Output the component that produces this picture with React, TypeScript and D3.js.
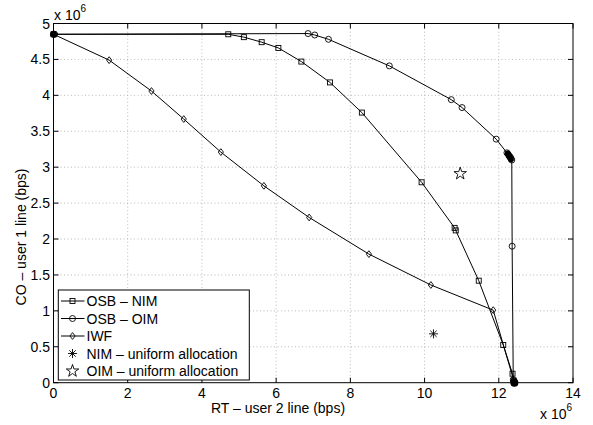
import React from "react";
import * as d3 from "d3";

// values in units of 1e6 bps
const nimX = [0, 4.71, 5.13, 5.61, 6.06, 6.68, 7.45, 8.31, 9.92, 10.81, 10.84, 11.46, 12.12, 12.37, 12.4, 12.42];
const nimY = [4.85, 4.85, 4.81, 4.74, 4.66, 4.47, 4.18, 3.76, 2.79, 2.155, 2.12, 1.42, 0.525, 0.125, 0.03, 0];

const oimX = [0, 0.03, 6.86, 7.04, 7.41, 9.05, 10.72, 11.01, 11.93, 12.22, 12.25, 12.28, 12.31, 12.33, 12.35, 12.36, 12.39, 12.41, 12.42];
const oimY = [4.85, 4.85, 4.86, 4.84, 4.78, 4.41, 3.94, 3.83, 3.39, 3.2, 3.18, 3.16, 3.14, 3.12, 3.1, 1.9, 0.04, 0.02, 0];

const iwfX = [0, 1.5, 2.64, 3.51, 4.51, 5.67, 6.89, 8.5, 10.17, 11.85, 12.42];
const iwfY = [4.85, 4.49, 4.06, 3.67, 3.21, 2.74, 2.3, 1.79, 1.36, 1.01, 0];

const nimUniform = [10.24, 0.68];
const oimUniform = [10.96, 2.91];

const legendLabels = ["OSB \u2013 NIM", "OSB \u2013 OIM", "IWF", "NIM \u2013 uniform allocation", "OIM \u2013 uniform allocation"];

const W = 593;
const H = 425;
const font = "'Liberation Sans', Arial, Helvetica, sans-serif";

const x = d3.scaleLinear().domain([0, 14]).range([53.5, 573]);
const y = d3.scaleLinear().domain([0, 5]).range([382.7, 23.5]);

const zip = (xs: number[], ys: number[]) => xs.map((v, i) => [v, ys[i]] as [number, number]);

const line = d3
  .line<[number, number]>()
  .x((d) => x(d[0]))
  .y((d) => y(d[1]));

type Kind = "square" | "circle" | "diamond" | "asterisk" | "star";

const Marker = ({ kind, cx, cy }: { kind: Kind; cx: number; cy: number }) => {
  const s = { fill: "none", stroke: "#000", strokeWidth: 0.9 };
  if (kind === "square") return <rect x={cx - 2.5} y={cy - 2.5} width={5} height={5} {...s} />;
  if (kind === "circle") return <circle cx={cx} cy={cy} r={3} {...s} />;
  if (kind === "diamond")
    return <path d={`M${cx},${cy - 3.4}L${cx + 2.6},${cy}L${cx},${cy + 3.4}L${cx - 2.6},${cy}Z`} {...s} />;
  if (kind === "asterisk") {
    const r = 4.5;
    const k = r * 0.707;
    return (
      <path
        d={`M${cx - r},${cy}H${cx + r}M${cx},${cy - r}V${cy + r}M${cx - k},${cy - k}L${cx + k},${cy + k}M${cx - k},${cy + k}L${cx + k},${cy - k}`}
        {...s}
      />
    );
  }
  const star = d3.symbol(d3.symbolStar, 48)();
  return <path d={star || ""} transform={`translate(${cx},${cy})`} {...s} />;
};

const series: { pts: [number, number][]; kind: Kind }[] = [
  { pts: zip(nimX, nimY), kind: "square" },
  { pts: zip(oimX, oimY), kind: "circle" },
  { pts: zip(iwfX, iwfY), kind: "diamond" },
];

export default function App() {
  const xTicks = x.ticks(7);
  const yTicks = y.ticks(10);
  const [x0, x1] = x.range();
  const [y0, y1] = y.range();
  const legendKinds: Kind[] = ["square", "circle", "diamond", "asterisk", "star"];

  return (
    <svg width={W} height={H} style={{ display: "block", position: "absolute", left: 0, top: 0, background: "#fff" }}>
      <rect width={W} height={H} fill="#fff" />
      {/* grid */}
      <g stroke="#a8a8a8" strokeWidth={0.8} strokeDasharray="1,2.5">
        {xTicks.slice(1, -1).map((t) => (
          <line key={"gx" + t} x1={x(t)} x2={x(t)} y1={y0} y2={y1} />
        ))}
        {yTicks.slice(1, -1).map((t) => (
          <line key={"gy" + t} x1={x0} x2={x1} y1={y(t)} y2={y(t)} />
        ))}
      </g>
      {/* ticks */}
      <g stroke="#000" strokeWidth={1}>
        {xTicks.map((t) => (
          <g key={"tx" + t}>
            <line x1={x(t)} x2={x(t)} y1={y0} y2={y0 - 5} />
            <line x1={x(t)} x2={x(t)} y1={y1} y2={y1 + 5} />
          </g>
        ))}
        {yTicks.map((t) => (
          <g key={"ty" + t}>
            <line x1={x0} x2={x0 + 5} y1={y(t)} y2={y(t)} />
            <line x1={x1} x2={x1 - 5} y1={y(t)} y2={y(t)} />
          </g>
        ))}
      </g>
      {/* series */}
      {series.map((s, i) => (
        <g key={i}>
          <path d={line(s.pts) || ""} fill="none" stroke="#000" strokeWidth={1} />
          {s.pts.map((p, j) => (
            <Marker key={j} kind={s.kind} cx={x(p[0])} cy={y(p[1])} />
          ))}
        </g>
      ))}
      <circle cx={x(12.42)} cy={y(0)} r={4} fill="#000" />
      <circle cx={x(0)} cy={y(4.85)} r={3.2} fill="#000" />
      {[12.24, 12.28, 12.32].map((v, i) => (
        <circle key={i} cx={x(v)} cy={y(3.19 - i * 0.04)} r={3} fill="#000" />
      ))}
      <Marker kind="asterisk" cx={x(nimUniform[0])} cy={y(nimUniform[1])} />
      <Marker kind="star" cx={x(oimUniform[0])} cy={y(oimUniform[1])} />
      {/* box */}
      <rect x={x0} y={y1} width={x1 - x0} height={y0 - y1} fill="none" stroke="#000" strokeWidth={1} />
      {/* tick labels */}
      <g fontFamily={font} fontSize={14} fill="#000">
        {xTicks.map((t) => (
          <text key={"lx" + t} x={x(t)} y={397.5} textAnchor="middle">
            {t}
          </text>
        ))}
        {yTicks.map((t) => (
          <text key={"ly" + t} x={50} y={y(t) + 5} textAnchor="end">
            {t}
          </text>
        ))}
        <text x={54} y={20}>
          x 10<tspan fontSize={10} dy={-8}>6</tspan>
        </text>
        <text x={540} y={419}>
          x 10<tspan fontSize={10} dy={-8}>6</tspan>
        </text>
        <text x={278} y={412.5} textAnchor="middle">
          RT {"\u2013"} user 2 line (bps)
        </text>
        <text transform="translate(26,237) rotate(-90)" textAnchor="middle">
          CO {"\u2013"} user 1 line (bps)
        </text>
      </g>
      {/* legend */}
      <g>
        <rect x={58.3} y={290} width={191} height={90} fill="#fff" stroke="#000" strokeWidth={1} />
        {legendLabels.map((lab, i) => {
          const ly = 301 + i * 17.5;
          return (
            <g key={lab}>
              {i < 3 && <line x1={61} x2={84.5} y1={ly} y2={ly} stroke="#000" strokeWidth={1} />}
              <Marker kind={legendKinds[i]} cx={72.5} cy={ly} />
              <text x={86.5} y={ly + 5} fontFamily={font} fontSize={14}>
                {lab}
              </text>
            </g>
          );
        })}
      </g>
    </svg>
  );
}
